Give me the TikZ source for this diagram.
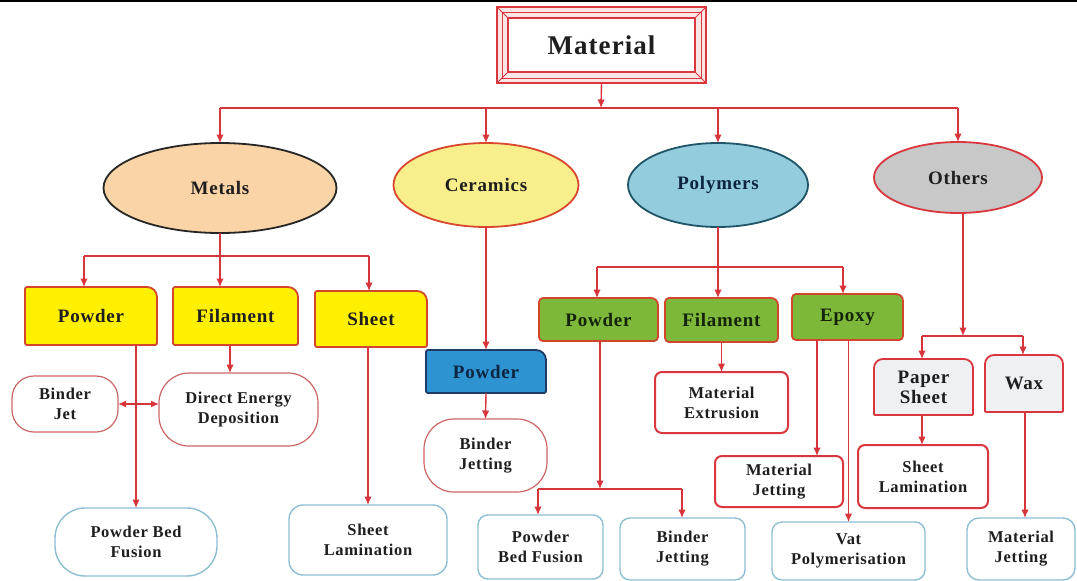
\documentclass[tikz,border=0pt]{standalone}
\usepackage{fontspec}
\setmainfont{Liberation Serif}[LetterSpace=4]
\usetikzlibrary{shapes.geometric,arrows.meta,backgrounds,calc}
\definecolor{conn}{HTML}{D8343C}
\definecolor{redline}{HTML}{D9363E}
\definecolor{txt}{HTML}{1E1E1E}
\definecolor{metfill}{HTML}{FAD3A6}
\definecolor{metdraw}{HTML}{262626}
\definecolor{cerfill}{HTML}{F8EE8C}
\definecolor{cerdraw}{HTML}{D9482E}
\definecolor{polfill}{HTML}{93CDDD}
\definecolor{poldraw}{HTML}{1F5566}
\definecolor{othfill}{HTML}{C8C8C8}
\definecolor{yelfill}{HTML}{FFF000}
\definecolor{boxdraw}{HTML}{D2462C}
\definecolor{bluefill}{HTML}{2E93D1}
\definecolor{bluedraw}{HTML}{1F3A66}
\definecolor{grnfill}{HTML}{7DB83A}
\definecolor{grayfill}{HTML}{EEF0F4}
\definecolor{leafred}{HTML}{CC6666}
\definecolor{leafblue}{HTML}{8DBFD2}
\definecolor{framefill}{HTML}{FBE6E6}
\definecolor{grntxt}{HTML}{14240A}
\definecolor{bluetxt}{HTML}{0D2540}

% name, style, r_nw, r_ne, r_se, r_sw
\newcommand\shapebox[6]{%
  \path[#2] (#1.north) [rounded corners=#4] -- (#1.north east) -- (#1.east)
    [rounded corners=#5] -- (#1.south east) -- (#1.south)
    [rounded corners=#6] -- (#1.south west) -- (#1.west)
    [rounded corners=#3] -- (#1.north west) -- cycle;}

\tikzset{
  every node/.style={inner sep=0pt, outer sep=0pt, text=txt, align=center},
  arr/.style={draw=conn, line width=1.4pt, -{Latex[length=8.5pt,width=7.5pt]}},
  dblarr/.style={draw=conn, line width=1.4pt, {Latex[length=8pt,width=7pt]}-{Latex[length=8pt,width=7pt]}},
  ln/.style={draw=conn, line width=1.4pt},
  ell/.style={ellipse, line width=1.8pt, font=\fontsize{19}{22}\selectfont\bfseries},
  mid/.style={rectangle, font=\fontsize{19}{21}\selectfont\bfseries},
  leaf/.style={rectangle, fill=white, font=\fontsize{16.5}{20}\selectfont\bfseries, text=txt},
  leafr/.style={leaf, draw=leafred, line width=1.2pt},
  leafb/.style={leaf, draw=leafblue, line width=1.4pt},
  leafR/.style={leaf, draw=redline, line width=2pt},
  yelbox/.style={fill=yelfill, draw=boxdraw, line width=1.8pt},
  grnbox/.style={fill=grnfill, draw=boxdraw, line width=1.8pt},
  blubox/.style={fill=bluefill, draw=bluedraw, line width=1.8pt},
  graybox/.style={fill=grayfill, draw=redline, line width=1.8pt},
}

\begin{document}
\begin{tikzpicture}[x=1pt, y=-1pt]
\useasboundingbox (0,0) rectangle (1077,581);

% ---------- nodes ----------
\node[font=\fontsize{27}{30}\selectfont\bfseries, minimum width=209pt, minimum height=76pt] (mat) at (601.5,45) {Material};

\node[ell, fill=metfill, draw=metdraw, minimum width=233pt, minimum height=90pt] (met) at (220,188) {Metals};
\node[ell, fill=cerfill, draw=cerdraw, minimum width=185pt, minimum height=84pt] (cer) at (486,185) {Ceramics};
\node[ell, fill=polfill, draw=poldraw, minimum width=180pt, minimum height=84pt, text=bluetxt] (pol) at (718,185) {Polymers};
\node[ell, fill=othfill, draw=redline, minimum width=168pt, minimum height=71pt] (oth) at (958,177.5) {Others};

\node[mid, minimum width=132pt, minimum height=58pt] (pow1) at (91,316) {Powder};
\node[mid, minimum width=125pt, minimum height=58pt] (fil1) at (235.5,316) {Filament};
\node[mid, minimum width=112pt, minimum height=56pt] (sh1) at (371,319) {Sheet};

\node[mid, minimum width=120pt, minimum height=43pt, text=bluetxt] (cpow) at (486,371.5) {Powder};

\node[mid, minimum width=119pt, minimum height=43pt, text=grntxt] (ppow) at (598.5,319.5) {Powder};
\node[mid, minimum width=113pt, minimum height=44pt, text=grntxt] (pfil) at (721.5,320) {Filament};
\node[mid, minimum width=111pt, minimum height=46pt, text=grntxt] (epo) at (847.5,317) {Epoxy};

\node[mid, minimum width=99pt, minimum height=56pt, font=\fontsize{19}{20}\selectfont\bfseries] (ps) at (923.5,387) {Paper\\Sheet};
\node[mid, minimum width=78pt, minimum height=57pt] (wax) at (1024,383.5) {Wax};

\node[leafr, rounded corners=22pt, minimum width=106pt, minimum height=56pt] (bj1) at (65,404) {Binder\\Jet};
\node[leafr, rounded corners=30pt, minimum width=159pt, minimum height=73pt] (ded) at (238.5,409.5) {Direct Energy\\Deposition};
\node[leafb, rounded corners=30pt, minimum width=162pt, minimum height=68pt] (pbf1) at (136,542) {Powder Bed\\Fusion};
\node[leafb, rounded corners=14pt, minimum width=158pt, minimum height=70pt] (sl1) at (368,540) {Sheet\\Lamination};
\node[leafr, rounded corners=30pt, minimum width=123pt, minimum height=73pt] (bj2) at (485.5,455.5) {Binder\\Jetting};
\node[leafb, rounded corners=10pt, minimum width=125pt, minimum height=64pt] (pbf2) at (540.5,547) {Powder\\Bed Fusion};
\node[leafb, rounded corners=10pt, minimum width=125pt, minimum height=62pt] (bj3) at (682.5,549) {Binder\\Jetting};
\node[leafR, rounded corners=7pt, minimum width=133pt, minimum height=61pt] (mex) at (721.5,402.5) {Material\\Extrusion};
\node[leafR, rounded corners=7pt, minimum width=128pt, minimum height=51pt] (mj1) at (779,481.5) {Material\\Jetting};
\node[leafb, rounded corners=10pt, minimum width=153pt, minimum height=58pt] (vat) at (848.5,551) {Vat\\Polymerisation};
\node[leafR, rounded corners=7pt, minimum width=130pt, minimum height=63pt] (sl2) at (923,476.5) {Sheet\\Lamination};
\node[leafb, rounded corners=12pt, minimum width=108pt, minimum height=62pt] (mj2) at (1021,549) {Material\\Jetting};

% ---------- backgrounds / box shapes ----------
\begin{pgfonlayer}{background}
  \fill[white] (0,0) rectangle (1077,581);
  % Material frame
  \fill[framefill] (mat.north west) rectangle (mat.south east);
  \fill[white] ($(mat.north west)+(11,11)$) rectangle ($(mat.south east)+(-11,-11)$);
  \draw[redline, line width=0.8pt] ($(mat.north west)+(5,5)$) rectangle ($(mat.south east)+(-5,-5)$);
  \draw[redline, line width=0.9pt] (mat.north west) -- ($(mat.north west)+(11,11)$);
  \draw[redline, line width=0.9pt] (mat.north east) -- ($(mat.north east)+(-11,11)$);
  \draw[redline, line width=0.9pt] (mat.south west) -- ($(mat.south west)+(11,-11)$);
  \draw[redline, line width=0.9pt] (mat.south east) -- ($(mat.south east)+(-11,-11)$);
  \draw[redline, line width=2.8pt] (mat.north west) rectangle (mat.south east);
  \draw[redline, line width=2.6pt] ($(mat.north west)+(11,11)$) rectangle ($(mat.south east)+(-11,-11)$);

  \shapebox{pow1}{yelbox}{2pt}{10pt}{2pt}{2pt}
  \shapebox{fil1}{yelbox}{2pt}{10pt}{2pt}{2pt}
  \shapebox{sh1}{yelbox}{2pt}{10pt}{2pt}{2pt}
  \shapebox{cpow}{blubox}{2pt}{10pt}{2pt}{2pt}
  \shapebox{ppow}{grnbox}{4pt}{7pt}{4pt}{4pt}
  \shapebox{pfil}{grnbox}{4pt}{7pt}{4pt}{4pt}
  \shapebox{epo}{grnbox}{4pt}{7pt}{4pt}{4pt}
  \shapebox{ps}{graybox}{9pt}{9pt}{1pt}{1pt}
  \shapebox{wax}{graybox}{9pt}{9pt}{1pt}{1pt}
\end{pgfonlayer}

% top rule
\draw[black, line width=2.2pt] (0,1) -- (1077,1);

% ---------- connectors ----------
\coordinate (b0) at (601,108);
\draw[arr] (mat.south) -- (b0);
\draw[ln] (b0 -| met.north) -- (b0 -| oth.north);
\draw[arr] (b0 -| met.north) -- (met.north);
\draw[arr] (b0 -| cer.north) -- (cer.north);
\draw[arr] (b0 -| pol.north) -- (pol.north);
\draw[arr] (b0 -| oth.north) -- (oth.north);

% metals
\coordinate (mbL) at (84,256);
\coordinate (mbR) at (369,256);
\draw[ln] (mbL) -- (mbR);
\draw[arr] (met.south) -- (met.south |- fil1.north);
\draw[arr] (mbL) -- (mbL |- pow1.north);
\draw[arr] (mbR) -- (mbR |- sh1.north);
\draw[arr] (pbf1.north |- pow1.south) -- (pbf1.north);
\draw[arr] ([xshift=-5.5pt]fil1.south) -- ([xshift=-5.5pt]fil1.south |- ded.north);
\draw[dblarr] (bj1.east) -- (bj1.east -| ded.west);
\draw[arr] (sl1.north |- sh1.south) -- (sl1.north);

% ceramics
\draw[arr] (cer.south) -- (cpow.north);
\draw[arr] (cpow.south) -- (bj2.north);

% polymers
\coordinate (pbL) at (597,267);
\coordinate (pbR) at (843,267);
\draw[ln] (pbL) -- (pbR);
\draw[arr] (pol.south) -- (pol.south |- pfil.north);
\draw[arr] (pbL) -- (pbL |- ppow.north);
\draw[arr] (pbR) -- (pbR |- epo.north);
\draw[arr] (mex.north |- pfil.south) -- (mex.north);
\draw[arr] ([xshift=-30.5pt]epo.south) -- ([xshift=-30.5pt]epo.south |- mj1.north);
\draw[arr] (vat.north |- epo.south) -- (vat.north);
\coordinate (pj) at (600,489);
\coordinate (pjL) at (538,489);
\coordinate (pjR) at (682,489);
\draw[ln] (pjL) -- (pjR);
\draw[arr] (pj |- ppow.south) -- (pj);
\draw[arr] (pjL) -- (pjL |- pbf2.north);
\draw[arr] (pjR) -- (pjR |- bj3.north);

% others
\coordinate (ob) at (963,336);
\coordinate (obL) at (922,336);
\coordinate (obR) at (1023,336);
\draw[arr] ([xshift=5pt]oth.south) -- (ob);
\draw[ln] (obL) -- (obR);
\draw[arr] (obL) -- (obL |- ps.north);
\draw[arr] (obR) -- (obR |- wax.north);
\draw[arr] (obL |- ps.south) -- (obL |- sl2.north);
\draw[arr] ([xshift=1pt]wax.south) -- ([xshift=1pt]wax.south |- mj2.north);
\end{tikzpicture}
\end{document}
